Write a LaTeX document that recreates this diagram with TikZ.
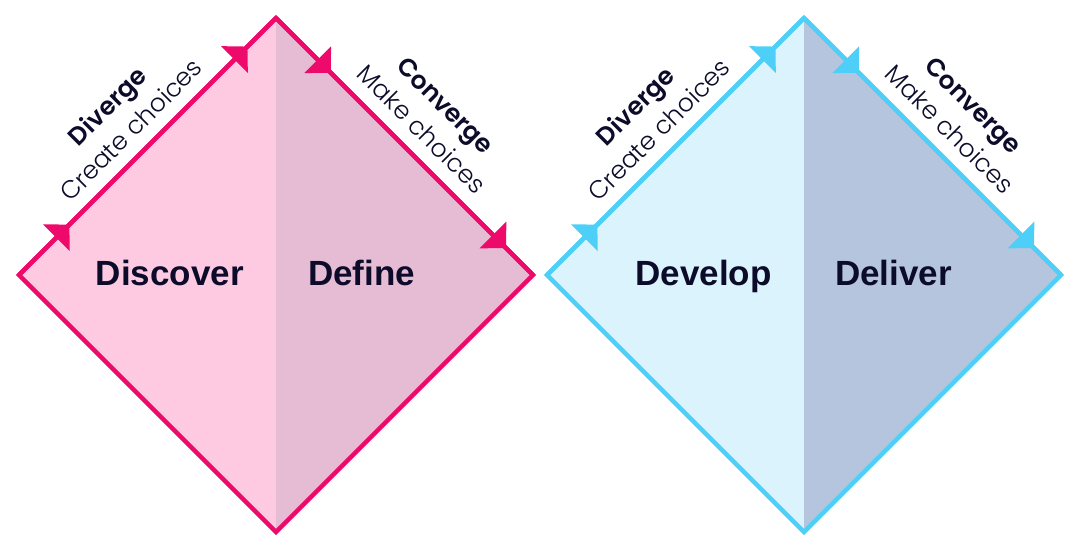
\documentclass[tikz,border=0pt]{standalone}
\usepackage{fontspec}
\setmainfont{Liberation Sans}
\newfontfamily\edgefont{Poppins}[UprightFont=* Light,BoldFont=* SemiBold]
\usepackage{tikz}
\usetikzlibrary{arrows.meta,decorations.markings}

\definecolor{pinkline}{HTML}{EE0A6B}
\definecolor{pinkA}{HTML}{FDCAE1}
\definecolor{pinkB}{HTML}{E6BBD4}
\definecolor{blueline}{HTML}{4DCFF8}
\definecolor{blueA}{HTML}{DBF3FC}
\definecolor{blueB}{HTML}{B6C5DE}
\definecolor{ink}{HTML}{0C0C2A}

\begin{document}
\begin{tikzpicture}[x=1pt,y=-1pt,line width=4.5pt,line join=miter,
                    >={Triangle[length=18.4pt,width=36.8pt]}]
  \tikzstyle{phase}=[inner sep=0pt,text=ink,font=\bfseries\fontsize{35}{42}\selectfont]
  \tikzstyle{side}=[midway,sloped,inner sep=0pt,text=ink,
                    font=\edgefont\fontsize{25}{30}\selectfont]
  \tikzstyle{divtips}=[postaction={decorate},decoration={markings,
                    mark=at position 0.196 with {\arrow{>}},
                    mark=at position 0.889 with {\arrow{>}}}]
  \tikzstyle{convtips}=[postaction={decorate},decoration={markings,
                    mark=at position 0.213 with {\arrow{>}},
                    mark=at position 0.895 with {\arrow{>}}}]

  \useasboundingbox (0,0) rectangle (1080,551);

  % first diamond
  \coordinate (L1) at (19,275);
  \coordinate (T1) at (276,18);
  \coordinate (R1) at (533,275);
  \coordinate (B1) at (276,532);
  \fill[pinkA] (L1) -- (T1) -- (B1) -- cycle;
  \fill[pinkB] (T1) -- (R1) -- (B1) -- cycle;
  \draw[pinkline] (L1) -- (T1) -- (R1) -- (B1) -- cycle;
  \draw[pinkline,divtips] (L1) -- (T1)
    node[side,above=12pt] (V1) {Create choices}
    node[side,above=39pt] (W1) {\bfseries Diverge};
  \draw[pinkline,convtips] (T1) -- (R1)
    node[side,above=13pt] (C1) {Make choices}
    node[side,above=40pt] (K1) {\bfseries Converge};
  \node[phase,anchor=base east] (D1) at (246,285) {Discover};
  \node[phase,anchor=base west] (E1) at (306,285) {Define};

  % second diamond
  \coordinate (L2) at (547,275);
  \coordinate (T2) at (804,18);
  \coordinate (R2) at (1061,275);
  \coordinate (B2) at (804,532);
  \fill[blueA] (L2) -- (T2) -- (B2) -- cycle;
  \fill[blueB] (T2) -- (R2) -- (B2) -- cycle;
  \draw[blueline] (L2) -- (T2) -- (R2) -- (B2) -- cycle;
  \draw[blueline,divtips] (L2) -- (T2)
    node[side,above=12pt] (V2) {Create choices}
    node[side,above=39pt] (W2) {\bfseries Diverge};
  \draw[blueline,convtips] (T2) -- (R2)
    node[side,above=13pt] (C2) {Make choices}
    node[side,above=40pt] (K2) {\bfseries Converge};
  \node[phase,anchor=base east] (D2) at (774,285) {Develop};
  \node[phase,anchor=base west] (E2) at (833,285) {Deliver};
\end{tikzpicture}
\end{document}
